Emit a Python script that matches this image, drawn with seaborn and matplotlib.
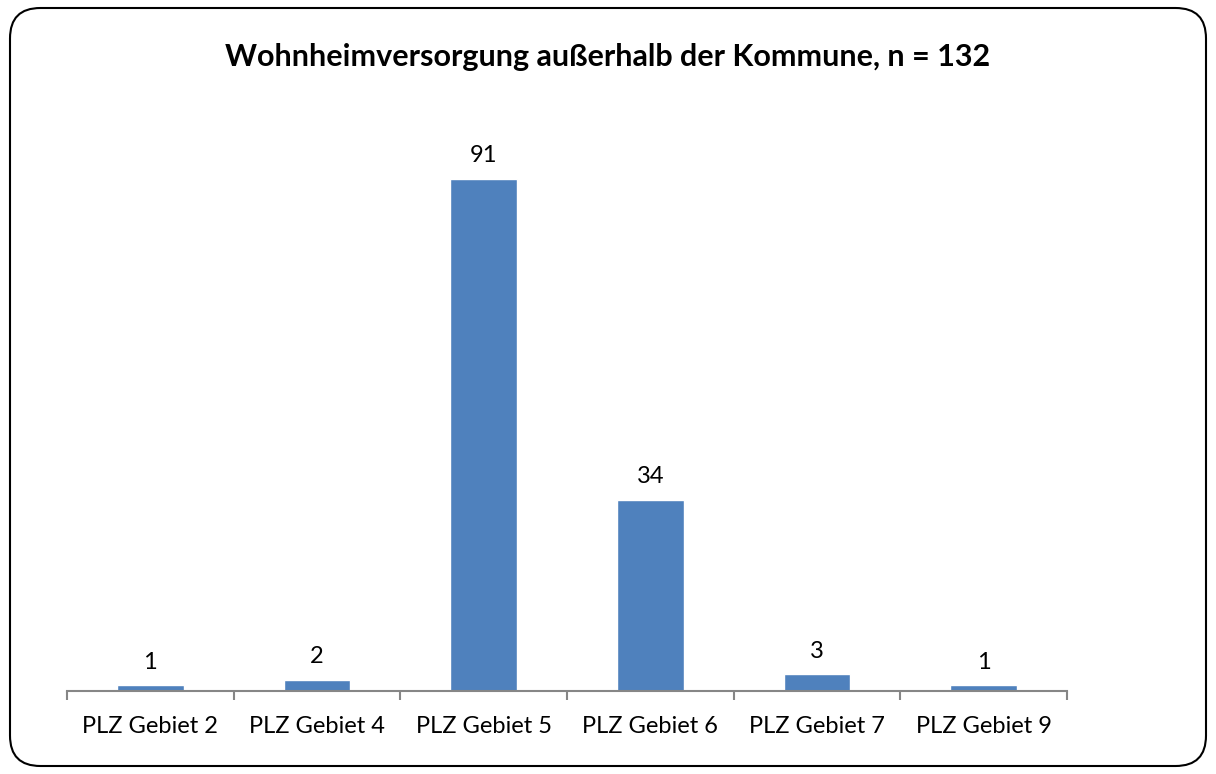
import matplotlib
matplotlib.use("Agg")
import matplotlib.pyplot as plt
from matplotlib.patches import FancyBboxPatch
import seaborn as sns
import numpy as np
import pandas as pd

# Daten aus dem Diagramm
gebiete = ["PLZ Gebiet 2", "PLZ Gebiet 4", "PLZ Gebiet 5",
           "PLZ Gebiet 6", "PLZ Gebiet 7", "PLZ Gebiet 9"]
anzahl = [1, 2, 91, 34, 3, 1]
titel = "Wohnheimversorgung außerhalb der Kommune, n = 132"

df = pd.DataFrame({"gebiet": gebiete, "anzahl": anzahl})

sns.set_style("white")
plt.rcParams["font.family"] = ["Lato", "DejaVu Sans"]
plt.rcParams["text.color"] = "black"
plt.rcParams["xtick.labelcolor"] = "black"

fig = plt.figure(figsize=(12.16, 7.74), dpi=100)
ax = fig.add_axes([0.0551, 0.1072, 0.8224, 0.7274])

sns.barplot(data=df, x="gebiet", y="anzahl", color="#4F81BD",
            width=0.4, saturation=1, ax=ax)

# Werte über den Balken
for i, v in enumerate(anzahl):
    ax.annotate(str(v), (i, v), xytext=(0, 9), textcoords="offset points",
                ha="center", va="bottom", fontsize=17, color="black")

ax.set_ylim(0, 100)
ax.set_xlim(-0.5, len(gebiete) - 0.5)
ax.set_xlabel("")
ax.set_ylabel("")
ax.set_yticks([])
for s in ["top", "right", "left"]:
    ax.spines[s].set_visible(False)
ax.spines["bottom"].set_color("#868686")
ax.spines["bottom"].set_linewidth(1.5)

# Teilstriche zwischen den Kategorien
ax.set_xticks(np.arange(-0.5, len(gebiete)), minor=True)
ax.tick_params(axis="x", which="minor", bottom=True, length=6.5,
               color="#868686", width=1.5, direction="out")
ax.tick_params(axis="x", which="major", bottom=False, length=0, pad=18,
               labelsize=17, labelcolor="black")

fig.text(0.5, 0.926, titel, ha="center", va="center", fontsize=22,
         fontweight="bold", color="black")

# abgerundeter Rahmen
rahmen = FancyBboxPatch((10 / 1216, 8 / 774), 1196 / 1216, 758 / 774,
                        boxstyle="round,pad=0,rounding_size=0.025",
                        transform=fig.transFigure, fill=False,
                        edgecolor="black", linewidth=1.5,
                        mutation_aspect=1216 / 774)
fig.patches.append(rahmen)

fig.savefig("out.png", dpi=100)
